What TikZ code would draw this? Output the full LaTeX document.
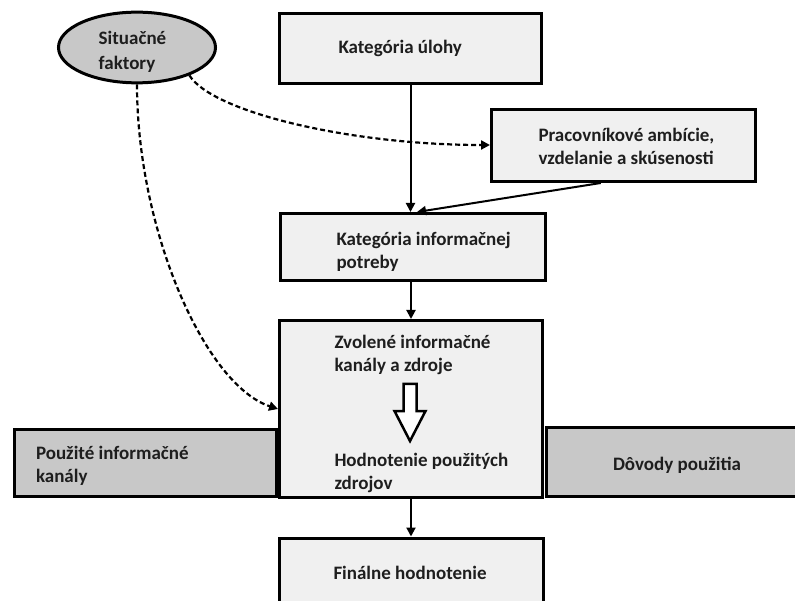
\documentclass[tikz,border=0pt]{standalone}
\usepackage{fontspec}
\setmainfont{Carlito}
\usetikzlibrary{arrows.meta,calc,shapes.geometric}

\definecolor{lightfill}{RGB}{240,240,240}
\definecolor{grayfill}{RGB}{200,200,200}
\definecolor{inkcol}{RGB}{30,30,30}

% left-aligned text block of a box:
% [vertical nudge]{total width}{left indent}{rows}
\newsavebox\boxtextbin
\newcommand\boxtext[4][0pt]{%
  \sbox\boxtextbin{\begin{tabular}{@{}l@{}}#4\end{tabular}}%
  \makebox[#2][l]{\hspace*{#3}%
    \raisebox{#1}[\ht\boxtextbin][\dp\boxtextbin]{\usebox\boxtextbin}}}
% free-standing text block with a nudge: [vertical]{horizontal}{rows}
\newcommand\nudgedtext[3][0pt]{%
  \sbox\boxtextbin{\begin{tabular}{@{}l@{}}#3\end{tabular}}%
  \hspace*{#2}\raisebox{#1}[\ht\boxtextbin][\dp\boxtextbin]{\usebox\boxtextbin}}

\tikzset{
  boxbase/.style={draw=black, line width=3pt, inner sep=0pt,
    text=inkcol, font=\bfseries\fontsize{19}{23}\selectfont},
  lightbox/.style={boxbase, fill=lightfill},
  graybox/.style={boxbase, fill=grayfill},
  flow/.style={line width=2pt, -{Triangle[length=9pt,width=9pt]}},
  dashflow/.style={line width=2.2pt, dash pattern=on 5pt off 3pt,
    -{Triangle[length=9pt,width=9pt]}},
}

\begin{document}
\begin{tikzpicture}[x=1pt,y=-1pt]
\useasboundingbox (0,0) rectangle (795,601);
\fill[white] (0,0) rectangle (795,601);
\clip (0,0) rectangle (795,601);

% side boxes behind the central column
\node[graybox, minimum width=262pt, minimum height=67pt]
  (kanaly) at (145,462.5) {\boxtext[-3.5pt]{262pt}{22pt}{Použité informačné\\kanály}};
\node[graybox, minimum width=256pt, minimum height=69pt]
  (dovody) at (674,461.5) {\boxtext[-4pt]{256pt}{67pt}{Dôvody použitia}};

% central column
\node[lightbox, minimum width=262pt, minimum height=70pt]
  (uloha) at (410.5,48.5) {\boxtext{262pt}{59pt}{Kategória úlohy}};
\node[lightbox, minimum width=264pt, minimum height=72pt]
  (prac) at (623.5,145.5) {\boxtext[-3pt]{264pt}{47pt}{Pracovníkové ambície,\\vzdelanie a skúsenosti}};
\node[lightbox, minimum width=265pt, minimum height=67pt]
  (potreba) at (413,247) {\boxtext[-5pt]{265pt}{56pt}{Kategória informačnej\\potreby}};
\node[lightbox, minimum width=263pt, minimum height=177pt]
  (zdroje) at (411,409) {\boxtext[-5pt]{263pt}{55pt}{Zvolené informačné\\kanály a zdroje\\[72pt]Hodnotenie použitých\\zdrojov}};
\node[lightbox, minimum width=264pt, minimum height=74pt]
  (final) at (411.5,575) {\boxtext{264pt}{54pt}{Finálne hodnotenie}};

% situational factors
\node[boxbase, ellipse, fill=grayfill, minimum width=157pt, minimum height=68pt,
  font=\bfseries\fontsize{19}{25}\selectfont] (situ) at (137,47.5)
  {\nudgedtext[-5pt]{-9pt}{Situačné\\faktory}};

% hollow arrow inside the central box
\draw[line width=2.5pt, line join=miter, fill=white]
  (403.5,384) -- (416.5,384) -- (416.5,411) -- (425.5,411) -- (410,441)
  -- (394.5,411) -- (403.5,411) -- cycle;

% solid connectors
\draw[flow] (uloha.south) -- (uloha.south |- potreba.north);
\draw[flow] ($(prac.south west)!0.415!(prac.south east)$) -- ($(potreba.north)+(4,0)$);
\draw[flow] ($(potreba.south)+(-2,0)$) -- (zdroje.north);
\draw[flow] (zdroje.south) -- (zdroje.south |- final.north);

% dashed influence of situational factors
\coordinate (s1) at (situ.-28);
\coordinate (s2) at (situ.south);
\draw[dashflow] (s1) .. controls (212,112) and (350,145) .. (prac.west |- 0,145);
\draw[dashflow] (s2) .. controls (137,230) and (205,385) .. (zdroje.west |- 0,409);
\end{tikzpicture}
\end{document}
